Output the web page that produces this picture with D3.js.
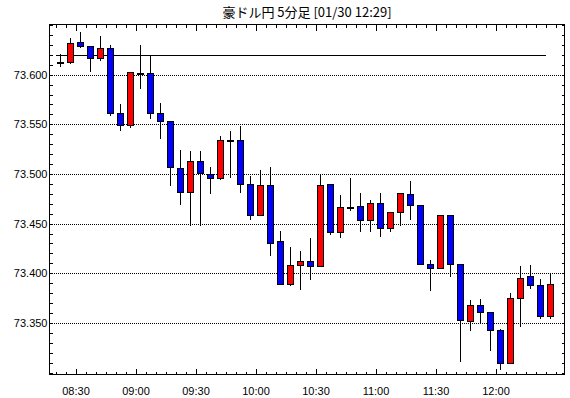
<!DOCTYPE html>
<html>
<head>
<meta charset="utf-8">
<script src="https://cdn.jsdelivr.net/npm/d3@7"></script>
<style>
  body { margin: 0; background: #fff; }
  svg { display: block; }
  .axis text { font-family: "Liberation Sans", Arial, sans-serif; font-size: 11px; fill: #000; }
  .axis path { display: none; }
  .axis line { stroke: #000; shape-rendering: crispEdges; }
  .grid line { stroke: #000; stroke-dasharray: 1,1; shape-rendering: crispEdges; }
  .grid path, .grid text { display: none; }
</style>
</head>
<body>
<svg id="chart"></svg>
<script>
'use strict';

// 5 minute bars, start time of each bar
var times = [
  "08:20","08:25","08:30","08:35","08:40","08:45","08:50","08:55","09:00","09:05",
  "09:10","09:15","09:20","09:25","09:30","09:35","09:40","09:45","09:50","09:55",
  "10:00","10:05","10:10","10:15","10:20","10:25","10:30","10:35","10:40","10:45",
  "10:50","10:55","11:00","11:05","11:10","11:15","11:20","11:25","11:30","11:35",
  "11:40","11:45","11:50","11:55","12:00","12:05","12:10","12:15","12:20","12:25"
];
var opens = [
  73.612,73.612,73.632,73.628,73.616,73.626,73.560,73.548,73.601,73.601,
  73.560,73.552,73.505,73.481,73.512,73.499,73.495,73.533,73.533,73.489,
  73.458,73.488,73.431,73.388,73.407,73.411,73.406,73.489,73.441,73.466,
  73.467,73.453,73.470,73.445,73.461,73.479,73.468,73.408,73.404,73.458,
  73.408,73.351,73.367,73.360,73.342,73.309,73.374,73.396,73.387,73.356
];
var highs = [
  73.621,73.637,73.643,73.629,73.639,73.630,73.570,73.602,73.630,73.620,
  73.571,73.552,73.524,73.523,73.523,73.507,73.538,73.543,73.548,73.498,
  73.504,73.507,73.443,73.426,73.422,73.435,73.499,73.489,73.479,73.496,
  73.481,73.474,73.481,73.461,73.480,73.493,73.468,73.413,73.458,73.458,
  73.408,73.373,73.374,73.361,73.344,73.380,73.407,73.408,73.394,73.400
];
var lows = [
  73.608,73.611,73.627,73.603,73.614,73.558,73.543,73.546,73.586,73.555,
  73.535,73.488,73.469,73.448,73.448,73.480,73.494,73.496,73.481,73.454,
  73.458,73.417,73.388,73.387,73.383,73.393,73.406,73.439,73.435,73.463,
  73.442,73.442,73.436,73.442,73.448,73.454,73.408,73.382,73.404,73.396,
  73.311,73.342,73.350,73.322,73.303,73.309,73.346,73.384,73.354,73.354
];
var closes = [
  73.612,73.631,73.628,73.616,73.626,73.560,73.548,73.602,73.601,73.560,
  73.552,73.506,73.481,73.512,73.500,73.495,73.533,73.533,73.489,73.458,
  73.488,73.429,73.388,73.407,73.411,73.406,73.488,73.441,73.466,73.466,
  73.453,73.470,73.445,73.461,73.480,73.468,73.408,73.404,73.458,73.408,
  73.352,73.367,73.360,73.342,73.309,73.374,73.394,73.387,73.356,73.388
];

var yLabels = ["73.350","73.400","73.450","73.500","73.550","73.600"];
var xLabels = ["08:30","09:00","09:30","10:00","10:30","11:00","11:30","12:00"];
var refLevel = 73.619;
var refFrom = "08:20", refTo = "12:25";
var title = "豪ドル円 5分足 [01/30 12:29]";

var W = 570, H = 398;
var mLeft = 49.5, mRight = 564.5, mTop = 24.5, mBottom = 374.5;

var parseTime = d3.timeParse("%H:%M");
var fmt = d3.timeFormat("%H:%M");
function px(v) { return Math.round(v - 0.5) + 0.5; }

var bars = times.map(function(t, i) {
  return { t: parseTime(t), o: opens[i], h: highs[i], l: lows[i], c: closes[i] };
});

var x = d3.scaleTime()
  .domain([d3.timeSecond.offset(parseTime("08:16"), 54), d3.timeSecond.offset(parseTime("12:34"), 24)])
  .range([mLeft, mRight]);

var y = d3.scaleLinear()
  .domain([73.2975, 73.650])
  .range([mBottom, mTop]);

var svg = d3.select("#chart")
  .attr("width", W)
  .attr("height", H);

// title
svg.append("text")
  .attr("x", (mLeft + mRight) / 2)
  .attr("y", 12)
  .attr("dy", "0.35em")
  .attr("text-anchor", "middle")
  .style("font-family", "'Noto Sans CJK JP', sans-serif")
  .style("font-size", "13px")
  .text(title);

// snap tick groups to whole pixels
function crisp(g) {
  g.selectAll(".tick").attr("transform", function() {
    var m = d3.select(this).attr("transform").match(/translate\(([\d.\-e]+),([\d.\-e]+)\)/);
    return "translate(" + (Math.round(+m[1])) + "," + (Math.round(+m[2])) + ")";
  });
}

var minorY = y.ticks(35);
var minorX = x.ticks(d3.timeMinute.every(5));
var majorX = xLabels.map(parseTime);

// dotted grid
svg.append("g")
  .attr("class", "grid")
  .attr("transform", "translate(" + mLeft + ",0)")
  .call(d3.axisLeft(y).tickValues(yLabels.map(Number)).tickSize(-(mRight - mLeft)).tickFormat(""))
  .call(crisp);

// left axis
svg.append("g")
  .attr("class", "axis")
  .attr("transform", "translate(" + mLeft + ",0)")
  .call(d3.axisLeft(y).tickValues(minorY).tickSize(-3).tickFormat(""))
  .call(crisp);

svg.append("g")
  .attr("class", "axis")
  .attr("transform", "translate(" + mLeft + ",0)")
  .call(d3.axisLeft(y).tickValues(yLabels.map(Number)).tickSize(0).tickPadding(2).tickFormat(d3.format(".3f")))
  .call(crisp);

// right axis
svg.append("g")
  .attr("class", "axis")
  .attr("transform", "translate(" + mRight + ",0)")
  .call(d3.axisRight(y).tickValues(minorY).tickSize(-3).tickFormat(""))
  .call(crisp);

// bottom axis
svg.append("g")
  .attr("class", "axis")
  .attr("transform", "translate(0," + mBottom + ")")
  .call(d3.axisBottom(x).tickValues(minorX).tickSize(-3).tickFormat(""))
  .call(crisp);

svg.append("g")
  .attr("class", "axis")
  .attr("transform", "translate(0," + mBottom + ")")
  .call(d3.axisBottom(x).tickValues(majorX).tickSize(-6).tickPadding(13).tickFormat(fmt))
  .call(crisp);

// top axis
svg.append("g")
  .attr("class", "axis")
  .attr("transform", "translate(0," + mTop + ")")
  .call(d3.axisTop(x).tickValues(minorX).tickSize(-3).tickFormat(""))
  .call(crisp);

svg.append("g")
  .attr("class", "axis")
  .attr("transform", "translate(0," + mTop + ")")
  .call(d3.axisTop(x).tickValues(majorX).tickSize(-6).tickFormat(""))
  .call(crisp);

// frame
svg.append("rect")
  .attr("x", mLeft)
  .attr("y", mTop)
  .attr("width", mRight - mLeft)
  .attr("height", mBottom - mTop)
  .style("fill", "none")
  .style("stroke", "#000")
  .style("shape-rendering", "crispEdges");

// reference level
svg.append("line")
  .attr("x1", px(x(parseTime(refFrom))))
  .attr("x2", px(x(parseTime(refTo))))
  .attr("y1", px(y(refLevel)))
  .attr("y2", px(y(refLevel)))
  .style("stroke", "#000")
  .style("shape-rendering", "crispEdges");

// candles
var candle = svg.append("g")
  .selectAll("g")
  .data(bars)
  .join("g")
  .attr("transform", function(d) {
    return "translate(" + px(x(d3.timeSecond.offset(d.t, 150))) + ",0)";
  });

candle.append("line")
  .attr("y1", function(d) { return px(y(d.h)); })
  .attr("y2", function(d) { return px(y(d.l)); })
  .style("stroke", "#000")
  .style("shape-rendering", "crispEdges");

candle.append("rect")
  .attr("x", -3)
  .attr("width", 6)
  .attr("y", function(d) { return px(y(Math.max(d.o, d.c))); })
  .attr("height", function(d) {
    return Math.max(1, px(y(Math.min(d.o, d.c))) - px(y(Math.max(d.o, d.c))));
  })
  .style("fill", function(d) { return d.c > d.o ? "#ff0000" : d.c < d.o ? "#0000ff" : "#000"; })
  .style("stroke", "#000")
  .style("shape-rendering", "crispEdges");
</script>
</body>
</html>
